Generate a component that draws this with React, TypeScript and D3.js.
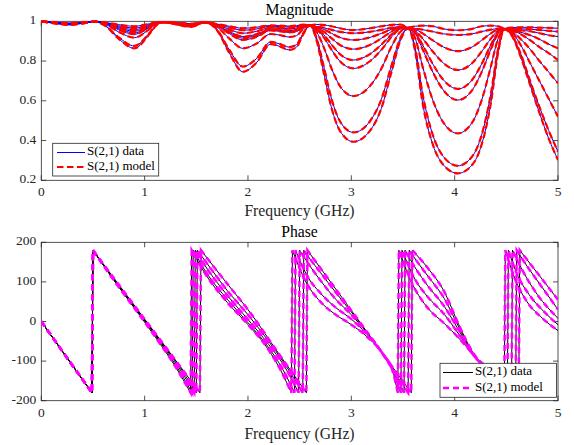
import React from "react";
import * as d3 from "d3";

const W = 574;
const H = 445;

// ---------- axes ----------
const freqTicks = [0, 1, 2, 3, 4, 5];
const magTicks = [0.2, 0.4, 0.6, 0.8, 1];
const magTickLabels = ["0.2", "0.4", "0.6", "0.8", "1"];
const phaseTicks = [-200, -100, 0, 100, 200];
const phaseTickLabels = ["-200", "-100", "0", "100", "200"];

// ---------- magnitude data (GHz knots, |S21|) ----------
const magFreq = [0, 0.15, 0.27, 0.4, 0.52, 0.62, 0.75, 0.9, 1.05, 1.12, 1.18, 1.3, 1.45, 1.58, 1.7, 1.82, 1.95, 2.08, 2.22, 2.3, 2.4, 2.47, 2.53, 2.6, 2.66, 2.73, 2.81, 2.89, 3.02, 3.18, 3.29, 3.39, 3.48, 3.55, 3.62, 3.69, 3.79, 3.89, 4.03, 4.17, 4.26, 4.35, 4.42, 4.48, 4.55, 4.64, 4.73, 4.82, 4.91, 5.0];

const mag0 = [1.0, 0.988, 0.982, 0.99, 0.998, 0.977, 0.911, 0.864, 0.938, 0.983, 0.996, 0.985, 0.972, 0.995, 0.955, 0.84, 0.746, 0.79, 0.885, 0.875, 0.856, 0.87, 0.93, 0.98, 0.911, 0.748, 0.561, 0.449, 0.394, 0.449, 0.561, 0.748, 0.911, 0.965, 0.841, 0.588, 0.378, 0.278, 0.235, 0.278, 0.378, 0.588, 0.841, 0.96, 0.93, 0.82, 0.68, 0.54, 0.41, 0.302];
const mag1 = [1.0, 0.989, 0.983, 0.99, 0.998, 0.978, 0.919, 0.876, 0.943, 0.985, 0.996, 0.986, 0.974, 0.995, 0.959, 0.856, 0.772, 0.811, 0.896, 0.887, 0.87, 0.883, 0.936, 0.98, 0.922, 0.78, 0.607, 0.497, 0.441, 0.497, 0.607, 0.78, 0.922, 0.965, 0.861, 0.634, 0.426, 0.32, 0.273, 0.32, 0.426, 0.634, 0.861, 0.96, 0.935, 0.835, 0.7, 0.57, 0.45, 0.344];
const mag2 = [1.0, 0.99, 0.985, 0.991, 0.998, 0.985, 0.946, 0.918, 0.962, 0.989, 0.996, 0.987, 0.977, 0.995, 0.972, 0.913, 0.864, 0.887, 0.936, 0.931, 0.921, 0.928, 0.959, 0.98, 0.95, 0.874, 0.761, 0.674, 0.624, 0.674, 0.761, 0.874, 0.95, 0.965, 0.912, 0.772, 0.601, 0.491, 0.436, 0.491, 0.601, 0.772, 0.912, 0.96, 0.945, 0.88, 0.79, 0.7, 0.61, 0.52];
const mag3 = [1.0, 0.991, 0.986, 0.992, 0.998, 0.988, 0.957, 0.935, 0.97, 0.991, 0.996, 0.988, 0.979, 0.995, 0.978, 0.938, 0.906, 0.921, 0.954, 0.95, 0.944, 0.949, 0.969, 0.98, 0.962, 0.922, 0.856, 0.799, 0.763, 0.799, 0.856, 0.922, 0.962, 0.965, 0.938, 0.859, 0.743, 0.654, 0.604, 0.654, 0.743, 0.859, 0.938, 0.96, 0.95, 0.91, 0.86, 0.8, 0.745, 0.688];
const mag4 = [1.0, 0.991, 0.987, 0.992, 0.998, 0.989, 0.962, 0.942, 0.973, 0.992, 0.996, 0.989, 0.98, 0.995, 0.979, 0.944, 0.915, 0.929, 0.958, 0.955, 0.949, 0.953, 0.972, 0.98, 0.965, 0.934, 0.882, 0.835, 0.805, 0.835, 0.882, 0.934, 0.965, 0.965, 0.944, 0.881, 0.784, 0.706, 0.66, 0.706, 0.784, 0.881, 0.944, 0.96, 0.955, 0.935, 0.905, 0.87, 0.84, 0.805];
const mag5 = [1.0, 0.992, 0.988, 0.993, 0.998, 0.99, 0.967, 0.95, 0.976, 0.993, 0.996, 0.99, 0.982, 0.995, 0.98, 0.949, 0.923, 0.935, 0.961, 0.958, 0.953, 0.957, 0.973, 0.98, 0.969, 0.949, 0.914, 0.881, 0.86, 0.881, 0.914, 0.949, 0.969, 0.965, 0.952, 0.913, 0.847, 0.79, 0.755, 0.79, 0.847, 0.913, 0.952, 0.96, 0.958, 0.945, 0.93, 0.91, 0.885, 0.864];
const mag6 = [1.0, 0.992, 0.989, 0.993, 0.998, 0.992, 0.972, 0.958, 0.98, 0.994, 0.996, 0.991, 0.984, 0.995, 0.983, 0.959, 0.94, 0.949, 0.968, 0.966, 0.963, 0.965, 0.978, 0.98, 0.971, 0.96, 0.939, 0.919, 0.906, 0.919, 0.939, 0.96, 0.971, 0.965, 0.959, 0.939, 0.904, 0.871, 0.85, 0.871, 0.904, 0.939, 0.959, 0.96, 0.96, 0.955, 0.95, 0.94, 0.93, 0.923];
const mag7 = [1.0, 0.993, 0.99, 0.994, 0.998, 0.993, 0.977, 0.966, 0.984, 0.994, 0.996, 0.992, 0.986, 0.995, 0.985, 0.969, 0.955, 0.961, 0.975, 0.974, 0.971, 0.973, 0.981, 0.98, 0.973, 0.968, 0.957, 0.947, 0.94, 0.947, 0.957, 0.968, 0.973, 0.965, 0.963, 0.958, 0.948, 0.937, 0.931, 0.937, 0.948, 0.958, 0.963, 0.96, 0.962, 0.962, 0.96, 0.957, 0.952, 0.948];
const mag8 = [1.0, 0.994, 0.991, 0.995, 0.998, 0.994, 0.983, 0.975, 0.988, 0.995, 0.996, 0.993, 0.988, 0.995, 0.986, 0.975, 0.965, 0.97, 0.979, 0.978, 0.976, 0.978, 0.984, 0.98, 0.984, 0.982, 0.975, 0.965, 0.956, 0.965, 0.975, 0.982, 0.984, 0.97, 0.975, 0.978, 0.975, 0.962, 0.955, 0.962, 0.975, 0.978, 0.975, 0.965, 0.968, 0.97, 0.97, 0.968, 0.967, 0.965];

const magCurves = [mag0, mag1, mag2, mag3, mag4, mag5, mag6, mag7, mag8];

// ---------- phase data (segments of [GHz, degrees], wrapped at +/-180) ----------
type Pt = [number, number];
const phase0: Pt[][] = [
  [[0, 0], [0.25, -92], [0.49, -180]],
  [[0.5, 180], [0.7, 105], [0.9, 34], [1.1, -38], [1.3, -115], [1.445, -180]],
  [[1.455, 180], [1.6, 115], [1.8, 48], [2.0, -8], [2.2, -72], [2.32, -125], [2.42, -180]],
  [[2.43, 180], [2.55, 105], [2.7, 50], [2.85, 17], [3.0, -8], [3.15, -38], [3.3, -80], [3.4, -125], [3.45, -180]],
  [[3.46, 180], [3.6, 90], [3.74, 34], [3.9, -5], [4.04, -42], [4.18, -84], [4.32, -130], [4.42, -162], [4.48, -180]],
  [[4.49, 180], [4.58, 110], [4.7, 50], [4.85, 8], [5.0, -23]],
];
const phase1: Pt[][] = [
  [[0, 0], [0.25, -92], [0.49, -180]],
  [[0.5, 180], [0.7, 106], [0.9, 36], [1.1, -34], [1.3, -110], [1.46, -180]],
  [[1.47, 180], [1.6, 122], [1.8, 56], [2.0, -3], [2.2, -66], [2.33, -118], [2.45, -180]],
  [[2.46, 180], [2.58, 112], [2.7, 72], [2.85, 35], [3.0, 6], [3.15, -32], [3.3, -80], [3.42, -135], [3.48, -180]],
  [[3.49, 180], [3.62, 105], [3.74, 62], [3.9, 18], [4.04, -32], [4.18, -84], [4.32, -125], [4.51, -180]],
  [[4.52, 180], [4.6, 122], [4.72, 68], [4.86, 26], [5.0, -8]],
];
const phase2: Pt[][] = [
  [[0, 0], [0.25, -92], [0.49, -180]],
  [[0.5, 180], [0.7, 107], [0.9, 37], [1.1, -32], [1.3, -104], [1.48, -180]],
  [[1.49, 180], [1.6, 135], [1.8, 66], [2.0, 5], [2.2, -58], [2.35, -112], [2.49, -180]],
  [[2.5, 180], [2.6, 140], [2.7, 104], [2.85, 56], [3.0, 17], [3.15, -28], [3.3, -80], [3.44, -140], [3.51, -180]],
  [[3.52, 180], [3.62, 135], [3.74, 90], [3.9, 38], [4.04, -22], [4.18, -83], [4.32, -120], [4.55, -180]],
  [[4.56, 180], [4.65, 132], [4.8, 68], [5.0, 8]],
];
const phase3: Pt[][] = [
  [[0, 0], [0.25, -92], [0.49, -180]],
  [[0.5, 180], [0.7, 108], [0.9, 38], [1.1, -30], [1.3, -100], [1.5, -180]],
  [[1.51, 180], [1.6, 148], [1.8, 78], [2.0, 17], [2.2, -50], [2.35, -105], [2.53, -180]],
  [[2.54, 180], [2.6, 158], [2.7, 124], [2.85, 73], [3.0, 24], [3.15, -27], [3.3, -80], [3.46, -145], [3.55, -180]],
  [[3.56, 180], [3.64, 150], [3.74, 115], [3.9, 58], [4.04, -14], [4.18, -82], [4.35, -122], [4.59, -180]],
  [[4.6, 180], [4.7, 140], [4.85, 85], [5.0, 30]],
];
const phase4: Pt[][] = [
  [[0, 0], [0.25, -92], [0.49, -180]],
  [[0.5, 180], [1.0, 6], [1.535, -180]],
  [[1.545, 180], [1.8, 95], [2.0, 30], [2.3, -82], [2.565, -180]],
  [[2.575, 180], [3.0, 28], [3.58, -180]],
  [[3.59, 180], [3.66, 160], [3.74, 135], [3.9, 75], [4.04, -8], [4.18, -80], [4.35, -125], [4.62, -180]],
  [[4.63, 180], [5.0, 55]],
];
const phaseCurves = [phase0, phase1, phase2, phase3, phase4];

const legendTop = ["S(2,1) data", "S(2,1) model"];
const legendBottom = ["S(2,1) data", "S(2,1) model"];

// ---------- layout ----------
const plotL = 41.3;
const plotR = 558;
const magTop = 21.3;
const magBot = 180.3;
const phTop = 242.3;
const phBot = 400.7;
const axisColor = "#262626";
const FONT = "Liberation Serif, DejaVu Serif, serif";

export default function App() {
  const x = d3.scaleLinear().domain([0, 5]).range([plotL, plotR]);
  const yM = d3.scaleLinear().domain([0.2, 1]).range([magBot, magTop]);
  const yP = d3.scaleLinear().domain([-200, 200]).range([phBot, phTop]);

  const magLine = d3
    .line<number>()
    .x((_, i) => x(magFreq[i]))
    .y((d) => yM(d))
    .curve(d3.curveMonotoneX);

  const segLine = d3
    .line<Pt>()
    .x((d) => x(d[0]))
    .y((d) => yP(d[1]))
    .curve(d3.curveMonotoneX);

  const phasePath = (segs: Pt[][]) =>
    segs
      .map((s, i) => {
        const p = segLine(s) || "";
        return i === 0 ? p : "L" + p.slice(1);
      })
      .join("");

  const tickLen = 5;
  const txt = { fontFamily: FONT };

  const axesBox = (top: number, bot: number, yScale: d3.ScaleLinear<number, number>, yTicks: number[], yLabels: string[], clipId: string) => (
    <g>
      <rect x={plotL} y={top} width={plotR - plotL} height={bot - top} fill="none" stroke={axisColor} strokeWidth={0.8} />
      {freqTicks.map((t) => (
        <g key={"xt" + t}>
          <line x1={x(t)} x2={x(t)} y1={bot} y2={bot - tickLen} stroke={axisColor} strokeWidth={0.8} />
          <line x1={x(t)} x2={x(t)} y1={top} y2={top + tickLen} stroke={axisColor} strokeWidth={0.8} />
          <text x={x(t)} y={bot + 13} textAnchor="middle" dominantBaseline="middle" fontSize={13.5} fill={axisColor} style={txt}>
            {String(t)}
          </text>
        </g>
      ))}
      {yTicks.map((t, i) => (
        <g key={"yt" + t}>
          <line x1={plotL} x2={plotL + tickLen} y1={yScale(t)} y2={yScale(t)} stroke={axisColor} strokeWidth={0.8} />
          <line x1={plotR} x2={plotR - tickLen} y1={yScale(t)} y2={yScale(t)} stroke={axisColor} strokeWidth={0.8} />
          <text x={plotL - 5} y={yScale(t)} textAnchor="end" dominantBaseline="middle" fontSize={13.5} fill={axisColor} style={txt}>
            {yLabels[i]}
          </text>
        </g>
      ))}
      <clipPath id={clipId}>
        <rect x={plotL} y={top - 1} width={plotR - plotL} height={bot - top + 2} />
      </clipPath>
    </g>
  );

  return (
    <svg width={W} height={H} style={{ position: "absolute", left: 0, top: 0, background: "#fff" }}>
      <rect x={0} y={0} width={W} height={H} fill="#fff" />

      {/* ---------------- Magnitude ---------------- */}
      {axesBox(magTop, magBot, yM, magTicks, magTickLabels, "clipMag")}
      <g clipPath="url(#clipMag)">
        {magCurves.map((c, i) => (
          <path key={"md" + i} d={magLine(c) || ""} fill="none" stroke="#0000ff" strokeWidth={1} />
        ))}
        {magCurves.map((c, i) => (
          <path key={"mm" + i} d={magLine(c) || ""} fill="none" stroke="#ff0000" strokeWidth={2.2} strokeDasharray="6.5,3.5" />
        ))}
      </g>
      <text x={299.5} y={14.5} textAnchor="middle" fontSize={15.7} fill="#000" style={txt}>
        Magnitude
      </text>
      <text x={299.5} y={215.5} textAnchor="middle" fontSize={15.7} fill={axisColor} style={txt}>
        Frequency (GHz)
      </text>
      {/* legend top */}
      <g>
        <rect x={52.7} y={143.3} width={106} height={32.7} fill="#fff" stroke={axisColor} strokeWidth={0.8} />
        <line x1={57} x2={85} y1={152.5} y2={152.5} stroke="#0000ff" strokeWidth={1} />
        <line x1={57} x2={85} y1={167} y2={167} stroke="#ff0000" strokeWidth={2.2} strokeDasharray="6.5,3.5" />
        <text x={87} y={152.5} dominantBaseline="middle" fontSize={13} fill="#000" style={txt}>
          {legendTop[0]}
        </text>
        <text x={87} y={167} dominantBaseline="middle" fontSize={13} fill="#000" style={txt}>
          {legendTop[1]}
        </text>
      </g>

      {/* ---------------- Phase ---------------- */}
      {axesBox(phTop, phBot, yP, phaseTicks, phaseTickLabels, "clipPh")}
      <g clipPath="url(#clipPh)">
        {phaseCurves.map((c, i) => (
          <path key={"pd" + i} d={phasePath(c)} fill="none" stroke="#000" strokeWidth={1} />
        ))}
        {phaseCurves.map((c, i) => (
          <path key={"pm" + i} d={phasePath(c)} fill="none" stroke="#ff00ff" strokeWidth={2.5} strokeDasharray="6,4" />
        ))}
      </g>
      <text x={299.5} y={236.5} textAnchor="middle" fontSize={15.7} fill="#000" style={txt}>
        Phase
      </text>
      <text x={299.5} y={438.5} textAnchor="middle" fontSize={15.7} fill={axisColor} style={txt}>
        Frequency (GHz)
      </text>
      {/* legend bottom */}
      <g>
        <rect x={440} y={363.3} width={116.5} height={34} fill="#fff" stroke={axisColor} strokeWidth={0.8} />
        <line x1={443} x2={473} y1={372.5} y2={372.5} stroke="#000" strokeWidth={1} />
        <line x1={443} x2={473} y1={388} y2={388} stroke="#ff00ff" strokeWidth={2.5} strokeDasharray="6,4" />
        <text x={475} y={372.5} dominantBaseline="middle" fontSize={13} fill="#000" style={txt}>
          {legendBottom[0]}
        </text>
        <text x={475} y={388} dominantBaseline="middle" fontSize={13} fill="#000" style={txt}>
          {legendBottom[1]}
        </text>
      </g>
    </svg>
  );
}
